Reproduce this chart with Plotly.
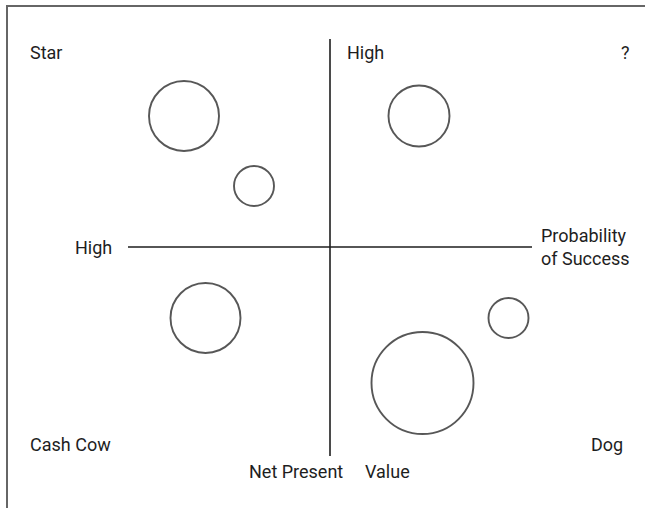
import plotly.graph_objects as go

# bubble positions (x: net present value, y: probability of success, centre cross at 0,0)
bubble_x = [-14.6, -7.6, 8.9, -12.45, 17.85, 9.25]
bubble_y = [13.1, 6.1, 13.1, -7.1, -7.1, -13.6]
bubble_size = [70, 40, 61, 70, 40, 102]

# axis cross lines
vline_x = [0, 0]
vline_y = [20.8, -20.9]
hline_x = [-20.2, 20.2]
hline_y = [0, 0]

# quadrant / axis labels
labels = ["Star", "?", "High", "High", "Probability<br>of Success",
          "Cash Cow", "Dog", "Net Present", "Value"]
label_x = [-30.2, 30.2, 1.5, -21.6, 20.9, -30.2, 29.5, 1.5, 3.3]
label_y = [19.5, 19.5, 19.5, 0, 0, -19.7, -19.7, -22.4, -22.4]
label_anchor = ["left", "right", "left", "right", "left", "left", "right", "right", "left"]

FONT = "Roboto, Liberation Sans, sans-serif"
INK = "#1e1e1e"

fig = go.Figure()

fig.add_trace(go.Scatter(x=vline_x, y=vline_y, mode="lines",
                         line=dict(color=INK, width=1.6), hoverinfo="skip"))
fig.add_trace(go.Scatter(x=hline_x, y=hline_y, mode="lines",
                         line=dict(color=INK, width=1.6), hoverinfo="skip"))

fig.add_trace(go.Scatter(
    x=bubble_x, y=bubble_y, mode="markers",
    marker=dict(size=bubble_size, sizemode="diameter", color="rgba(0,0,0,0)",
                line=dict(color="#111111", width=1.9)),
    hoverinfo="skip",
))

for t, x, y, a in zip(labels, label_x, label_y, label_anchor):
    fig.add_annotation(x=x, y=y, text=t, showarrow=False, xanchor=a, yanchor="middle",
                       align="left", font=dict(family=FONT, size=18, color=INK))

# outer frame (right and bottom edges fall outside the picture)
fig.add_shape(type="rect", xref="paper", yref="paper",
              x0=7 / 645, x1=1.02, y0=-0.02, y1=1 - 6 / 508,
              line=dict(color="#666666", width=2))

fig.update_layout(
    width=645, height=508,
    margin=dict(l=0, r=0, t=0, b=0),
    paper_bgcolor="white", plot_bgcolor="white",
    showlegend=False,
    xaxis=dict(range=[-33, 31.5], visible=False),
    yaxis=dict(range=[-26.1, 24.7], visible=False),
)

fig.write_html("out.html", config={"displayModeBar": False},
               post_script="document.body.style.margin='0';")
